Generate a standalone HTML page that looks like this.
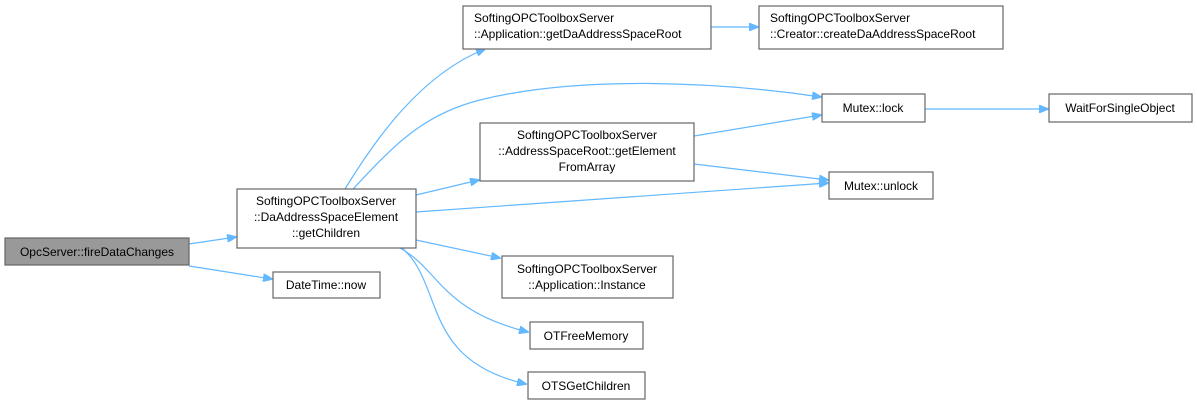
<!DOCTYPE html>
<html><head><meta charset="utf-8"><style>
html,body{margin:0;padding:0;background:#fff;}
svg{display:block;}
text{font-family:"Liberation Sans",Arial,sans-serif;font-size:12px;fill:#000;}
.n{fill:#fff;stroke:#666;stroke-width:1.2;}
.e{fill:none;stroke:#63b8ff;stroke-width:1.2;}
.a{fill:#63b8ff;stroke:#63b8ff;}
</style></head><body>
<svg width="1197" height="405" viewBox="0 0 1197 405" xmlns="http://www.w3.org/2000/svg">
<defs><marker id="ar" markerWidth="10" markerHeight="8" refX="9" refY="4" orient="auto" markerUnits="userSpaceOnUse"><path d="M0,0 L10,4 L0,8 z" class="a"/></marker></defs>
<path class="e" marker-end="url(#ar)" d="M189,244 L236,237"/>
<path class="e" marker-end="url(#ar)" d="M189,266 L272,279"/>
<path class="e" marker-end="url(#ar)" d="M345,189 C375,140 420,75 485,49"/>
<path class="e" marker-end="url(#ar)" d="M711,27 L758,27"/>
<path class="e" marker-end="url(#ar)" d="M353,189 C390,150 420,115 480,100 C580,75 720,82 821,97"/>
<path class="e" marker-end="url(#ar)" d="M416,195 L479,180"/>
<path class="e" marker-end="url(#ar)" d="M416,212 L828,183"/>
<path class="e" marker-end="url(#ar)" d="M694,136 L821,115"/>
<path class="e" marker-end="url(#ar)" d="M694,164 L828,180"/>
<path class="e" marker-end="url(#ar)" d="M925,109 L1048,109"/>
<path class="e" marker-end="url(#ar)" d="M416,240 L500,258"/>
<path class="e" marker-end="url(#ar)" d="M400,248 C440,270 440,310 528,332"/>
<path class="e" marker-end="url(#ar)" d="M402,248 C445,285 420,360 526,384"/>
<rect x="5" y="238" width="184" height="27" style="fill:#999;stroke:#666;stroke-width:1.2"/>
<text x="97" y="256" text-anchor="middle">OpcServer::fireDataChanges</text>
<rect class="n" x="237" y="189" width="179" height="59"/>
<text x="326" y="205" text-anchor="middle">SoftingOPCToolboxServer</text>
<text x="326" y="221" text-anchor="middle">::DaAddressSpaceElement</text>
<text x="326" y="237" text-anchor="middle">::getChildren</text>
<rect class="n" x="273" y="272" width="107" height="26"/>
<text x="326" y="289" text-anchor="middle">DateTime::now</text>
<rect class="n" x="463" y="6" width="248" height="43"/>
<text x="474" y="22">SoftingOPCToolboxServer</text>
<text x="474" y="38">::Application::getDaAddressSpaceRoot</text>
<rect class="n" x="759" y="6" width="244" height="43"/>
<text x="770" y="22">SoftingOPCToolboxServer</text>
<text x="770" y="38">::Creator::createDaAddressSpaceRoot</text>
<rect class="n" x="822" y="94" width="103" height="28"/>
<text x="873" y="112" text-anchor="middle">Mutex::lock</text>
<rect class="n" x="1049" y="94" width="143" height="28"/>
<text x="1120" y="112" text-anchor="middle">WaitForSingleObject</text>
<rect class="n" x="480" y="123" width="214" height="58"/>
<text x="587" y="139" text-anchor="middle">SoftingOPCToolboxServer</text>
<text x="587" y="155" text-anchor="middle">::AddressSpaceRoot::getElement</text>
<text x="587" y="171" text-anchor="middle">FromArray</text>
<rect class="n" x="829" y="172" width="104" height="27"/>
<text x="881" y="190" text-anchor="middle">Mutex::unlock</text>
<rect class="n" x="502" y="256" width="171" height="42"/>
<text x="587" y="273" text-anchor="middle">SoftingOPCToolboxServer</text>
<text x="587" y="289" text-anchor="middle">::Application::Instance</text>
<rect class="n" x="530" y="322" width="113" height="27"/>
<text x="586" y="340" text-anchor="middle">OTFreeMemory</text>
<rect class="n" x="528" y="372" width="117" height="27"/>
<text x="586" y="390" text-anchor="middle">OTSGetChildren</text>
</svg>
</body></html>
